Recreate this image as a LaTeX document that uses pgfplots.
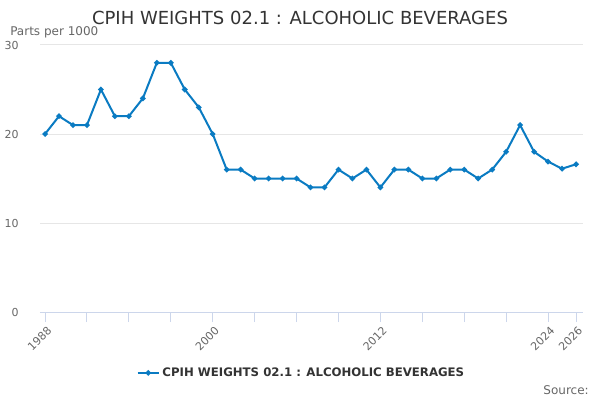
\documentclass[border=0pt]{standalone}
\usepackage{pgfplots}
\pgfplotsset{compat=1.18}
\usepackage{fontspec}
\setmainfont{DejaVu Sans}
\definecolor{ser}{HTML}{0A7BC2}
\definecolor{txt}{HTML}{333333}
\definecolor{lab}{HTML}{666666}
\definecolor{grd}{HTML}{E6E6E6}
\definecolor{axl}{HTML}{CCD6EB}
\begin{document}
\begin{tikzpicture}
\path[use as bounding box] (0pt,0pt) rectangle (450pt,300pt);
\node[font=\fontsize{13.5}{16}\selectfont, text=txt] at (225pt,286.5pt) {CPIH WEIGHTS 02.1 : ALCOHOLIC BEVERAGES};
\node[font=\fontsize{9}{11}\selectfont, text=lab, anchor=west, inner sep=0pt] at (7.5pt,276pt) {Parts per 1000};
\node[font=\fontsize{9}{11}\selectfont, text=lab, anchor=east, inner sep=0pt] at (441.75pt,7.5pt) {Source:};
\begin{axis}[
  at={(30pt,66pt)}, anchor=south west,
  scale only axis, width=407.25pt, height=200.25pt,
  xmin=1987.64, xmax=2026.5, ymin=0, ymax=30,
  axis line style={draw=none},
  axis x line*=bottom,
  x axis line style={draw=axl, line width=0.75pt},
  ytick={0,10,20,30},
  ymajorgrids, grid style={grd, line width=0.75pt},
  xtick={1988,1991,1994,1997,2000,2003,2006,2009,2012,2015,2018,2021,2024,2026},
  xticklabels={1988,,,,2000,,,,2012,,,,2024,2026},
  xtick style={draw=axl, line width=0.75pt},
  ytick style={draw=none},
  tick align=outside, major tick length=7.5pt,
  xticklabel style={rotate=45, anchor=north east, font=\fontsize{8.25}{10}\selectfont, text=lab, inner sep=1pt, yshift=-1.5pt},
  yticklabel style={font=\fontsize{8.25}{10}\selectfont, text=lab, xshift=-5pt},
  /pgf/number format/assume math mode=true,
  legend style={at={(0.482,-0.228)}, anchor=center, draw=none, fill=none, font=\bfseries\fontsize{8.8}{11}\selectfont, text=txt},
  legend image code/.code={\draw[#1, mark repeat=2, mark phase=2] plot coordinates {(0cm,0cm) (0.28cm,0cm) (0.56cm,0cm)};},
  clip=false,
]
\addplot[ser, line width=1.5pt, mark=*, mark size=1.2pt, mark options={solid}] coordinates {
(1988,20)(1989,22)(1990,21)(1991,21)(1992,25)(1993,22)(1994,22)(1995,24)(1996,28)(1997,28)
(1998,25)(1999,23)(2000,20)(2001,16)(2002,16)(2003,15)(2004,15)(2005,15)(2006,15)(2007,14)
(2008,14)(2009,16)(2010,15)(2011,16)(2012,14)(2013,16)(2014,16)(2015,15)(2016,15)(2017,16)
(2018,16)(2019,15)(2020,16)(2021,18)(2022,21)(2023,18)(2024,16.9)(2025,16.1)(2026,16.6)
};
\addlegendentry{CPIH WEIGHTS 02.1 : ALCOHOLIC BEVERAGES}
\end{axis}
\end{tikzpicture}
\end{document}
